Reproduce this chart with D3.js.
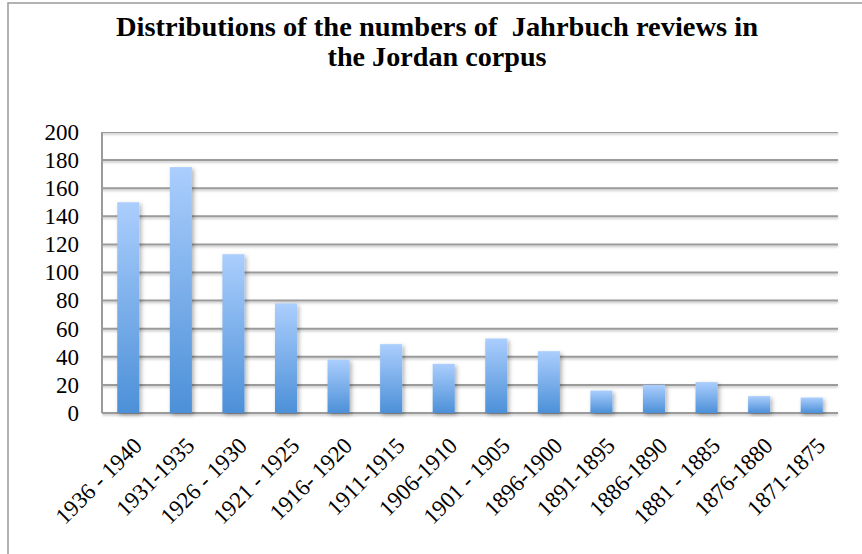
<!DOCTYPE html>
<html>
<head>
<meta charset="utf-8">
<script src="https://cdn.jsdelivr.net/npm/d3@7/dist/d3.min.js"></script>
<style>
  body { margin: 0; background: #fff; }
  svg { display: block; }
  .tick text { font-family: "Liberation Serif", serif; font-size: 23px; fill: #000; }
</style>
</head>
<body>
<script>
// data
var periods = ['1936 - 1940', '1931-1935', '1926 - 1930', '1921 - 1925', '1916- 1920',
               '1911-1915', '1906-1910', '1901 - 1905', '1896-1900', '1891-1895',
               '1886-1890', '1881 - 1885', '1876-1880', '1871-1875'];
var reviews = [150, 175, 113, 78, 38, 49, 35, 53, 44, 16, 20, 22, 12, 11];
var yTicks = [0, 20, 40, 60, 80, 100, 120, 140, 160, 180, 200];
var titleLines = ['Distributions of the numbers of  Jahrbuch reviews in', 'the Jordan corpus'];
var titleWidths = [642, 219];

var width = 862, height = 554;
var margin = {top: 132, right: 24, bottom: 141, left: 102};

var svg = d3.select('body').append('svg')
  .attr('width', width)
  .attr('height', height);

var defs = svg.append('defs');
var grad = defs.append('linearGradient')
  .attr('id', 'barGrad')
  .attr('x1', 0).attr('y1', 0).attr('x2', 0).attr('y2', 1);
grad.append('stop').attr('offset', '0%').attr('stop-color', '#abcefd');
grad.append('stop').attr('offset', '100%').attr('stop-color', '#4c90d8');

var shadow = defs.append('filter').attr('id', 'shadow')
  .attr('x', '-30%').attr('y', '-10%').attr('width', '170%').attr('height', '130%');
shadow.append('feDropShadow')
  .attr('dx', 2).attr('dy', 2).attr('stdDeviation', 2)
  .attr('flood-color', '#000').attr('flood-opacity', 0.3);

// lines have no height, so their shadow filter works in page units
var lineShadow = defs.append('filter').attr('id', 'lineShadow')
  .attr('filterUnits', 'userSpaceOnUse')
  .attr('x', 0).attr('y', 0).attr('width', width).attr('height', height);
lineShadow.append('feDropShadow')
  .attr('dx', 0).attr('dy', 1.5).attr('stdDeviation', 1)
  .attr('flood-color', '#000').attr('flood-opacity', 0.25);

// outer border of the chart (left and top edges show)
svg.append('path')
  .attr('d', 'M8,' + height + 'V3H' + width)
  .attr('fill', 'none')
  .attr('stroke', '#9a9a9a')
  .attr('stroke-width', 1.5);

// title
svg.append('text')
  .attr('text-anchor', 'middle')
  .style('font-family', '"Liberation Serif", serif')
  .style('font-weight', 'bold')
  .style('font-size', '27px')
  .style('white-space', 'pre')
  .selectAll('tspan')
  .data(titleLines)
  .enter().append('tspan')
  .attr('x', 437)
  .attr('y', function(d, i) { return 36 + i * 30; })
  .attr('textLength', function(d, i) { return titleWidths[i]; })
  .attr('lengthAdjust', 'spacingAndGlyphs')
  .text(function(d) { return d; });

var w = width - margin.left - margin.right,
    h = height - margin.top - margin.bottom;

var g = svg.append('g')
  .attr('transform', 'translate(' + margin.left + ',' + margin.top + ')');

var x = d3.scaleBand()
  .domain(periods)
  .range([0, w])
  .paddingInner(0.58)
  .paddingOuter(0.29);

var y = d3.scaleLinear()
  .domain([0, 200])
  .range([h, 0]);

// gridlines
g.append('g')
  .selectAll('line')
  .data(yTicks)
  .enter().append('line')
  .attr('x1', 0).attr('x2', w)
  .attr('y1', function(d) { return y(d); })
  .attr('y2', function(d) { return y(d); })
  .attr('stroke', '#9b9b9b')
  .attr('stroke-width', 2)
  .attr('filter', 'url(#lineShadow)');

// left axis line
g.append('line')
  .attr('x1', 0).attr('x2', 0)
  .attr('y1', 0).attr('y2', h)
  .attr('stroke', '#9b9b9b')
  .attr('stroke-width', 2);

// bars
g.append('g')
  .selectAll('rect')
  .data(reviews)
  .enter().append('rect')
  .attr('x', function(d, i) { return x(periods[i]); })
  .attr('y', function(d) { return y(d); })
  .attr('width', x.bandwidth())
  .attr('height', function(d) { return h - y(d); })
  .attr('fill', 'url(#barGrad)')
  .attr('filter', 'url(#shadow)');

// y axis labels
var yAxis = g.append('g')
  .call(d3.axisLeft(y).tickValues(yTicks).tickSize(0).tickPadding(23));
yAxis.select('.domain').remove();

// x axis labels
var xAxis = g.append('g')
  .attr('transform', 'translate(0,' + h + ')')
  .call(d3.axisBottom(x).tickSize(0).tickPadding(0));
xAxis.select('.domain').remove();
xAxis.selectAll('text')
  .attr('text-anchor', 'end')
  .attr('dy', 0)
  .attr('transform', 'translate(15,34) rotate(-45)');
</script>
</body>
</html>
